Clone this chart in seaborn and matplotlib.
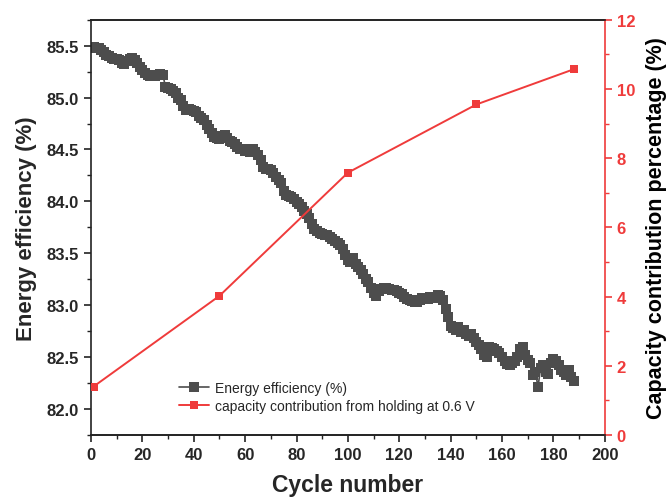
import numpy as np
import pandas as pd
import matplotlib
matplotlib.use('Agg')
import matplotlib.pyplot as plt
from matplotlib.ticker import MultipleLocator
import seaborn as sns

# data
cycles = list(range(1, 189))
energy_eff = [
    85.49, 85.48, 85.48, 85.46, 85.44, 85.41, 85.40, 85.38, 85.37, 85.37,
    85.36, 85.33, 85.32, 85.35, 85.37, 85.38, 85.36, 85.33, 85.29, 85.27,
    85.24, 85.22, 85.21, 85.22, 85.21, 85.22, 85.23, 85.22, 85.10, 85.09,
    85.08, 85.06, 85.04, 85.00, 84.98, 84.92, 84.88, 84.89, 84.88, 84.87,
    84.86, 84.82, 84.80, 84.78, 84.74, 84.70, 84.66, 84.62, 84.61, 84.60,
    84.63, 84.64, 84.61, 84.58, 84.57, 84.55, 84.52, 84.50, 84.50, 84.49,
    84.50, 84.48, 84.50, 84.48, 84.45, 84.40, 84.33, 84.31, 84.31, 84.30,
    84.27, 84.23, 84.21, 84.18, 84.10, 84.06, 84.05, 84.04, 84.02, 83.99,
    83.97, 83.95, 83.91, 83.88, 83.84, 83.78, 83.73, 83.71, 83.70, 83.69,
    83.68, 83.68, 83.66, 83.64, 83.62, 83.60, 83.58, 83.54, 83.48, 83.44,
    83.42, 83.45, 83.40, 83.37, 83.34, 83.30, 83.25, 83.22, 83.17, 83.12,
    83.09, 83.14, 83.16, 83.17, 83.17, 83.16, 83.15, 83.15, 83.14, 83.12,
    83.11, 83.08, 83.06, 83.05, 83.04, 83.03, 83.03, 83.05, 83.07, 83.07,
    83.06, 83.08, 83.08, 83.07, 83.10, 83.09, 83.05, 82.96, 82.89, 82.80,
    82.78, 82.76, 82.79, 82.74, 82.76, 82.72, 82.70, 82.72, 82.68, 82.65,
    82.62, 82.58, 82.52, 82.50, 82.60, 82.59, 82.58, 82.56, 82.54, 82.50,
    82.46, 82.43, 82.42, 82.44, 82.46, 82.50, 82.58, 82.60, 82.52, 82.47,
    82.44, 82.33, 82.36, 82.21, 82.40, 82.42, 82.36, 82.34, 82.44, 82.48,
    82.46, 82.42, 82.38, 82.36, 82.33, 82.38, 82.31, 82.27,
]
hold_cycles = [1, 50, 100, 150, 188]
hold_contrib = [1.40, 4.02, 7.58, 9.55, 10.57]

df_ee = pd.DataFrame({'cycle': cycles, 'ee': energy_eff})
df_hold = pd.DataFrame({'cycle': hold_cycles, 'contrib': hold_contrib})

sns.set_theme(style='ticks')
plt.rcParams['font.family'] = ['Liberation Sans', 'DejaVu Sans']

grey = '#4d4d4d'
red = '#ef3b3b'

fig = plt.figure(figsize=(6.72, 5.02), dpi=100)
ax = fig.add_axes([0.1354, 0.1315, 0.7646, 0.8273])
ax2 = ax.twinx()

sns.lineplot(data=df_ee, x='cycle', y='ee', ax=ax, color=grey, marker='s',
             markersize=6.5, markeredgewidth=0, linewidth=1.2,
             label='Energy efficiency (%)', legend=False)
sns.lineplot(data=df_hold, x='cycle', y='contrib', ax=ax2, color=red, marker='s',
             markersize=6, markeredgewidth=0, linewidth=1.4,
             label='capacity contribution from holding at 0.6 V', legend=False)

ax.set_xlim(0, 200)
ax.set_ylim(81.75, 85.75)
ax2.set_ylim(0, 12)
ax.xaxis.set_major_locator(MultipleLocator(20))
ax.xaxis.set_minor_locator(MultipleLocator(10))
ax.yaxis.set_major_locator(MultipleLocator(0.5))
ax.yaxis.set_minor_locator(MultipleLocator(0.25))
ax2.yaxis.set_major_locator(MultipleLocator(2))
ax2.yaxis.set_minor_locator(MultipleLocator(1))
ax.set_yticks(np.arange(82.0, 85.51, 0.5))
ax.set_yticklabels([f'{v:.1f}' for v in np.arange(82.0, 85.51, 0.5)])

ax.set_xlabel('Cycle number', fontsize=16.5, fontweight='bold', labelpad=8)
ax.set_ylabel('Energy efficiency (%)', fontsize=16, fontweight='bold', labelpad=7)
ax2.set_ylabel('Capacity contribution percentage (%)', fontsize=15.5,
               fontweight='bold', color='black', labelpad=8)

for a in (ax, ax2):
    for s in a.spines.values():
        s.set_linewidth(1.2)
        s.set_color('#222222')
ax.spines['right'].set_visible(False)
ax2.spines['right'].set_color(red)
ax2.spines['left'].set_visible(False)

ax.tick_params(axis='both', which='major', direction='out', length=5, width=1.2,
               labelsize=12, color='#222222', top=False)
ax.tick_params(axis='both', which='minor', direction='out', length=3, width=1.0,
               color='#222222', top=False)
ax2.tick_params(axis='y', which='major', direction='out', length=5, width=1.2,
                labelsize=12, colors=red)
ax2.tick_params(axis='y', which='minor', direction='out', length=3, width=1.0,
                colors=red)
for lab in ax.get_xticklabels() + ax.get_yticklabels() + ax2.get_yticklabels():
    lab.set_fontweight('bold')

h1, l1 = ax.get_legend_handles_labels()
h2, l2 = ax2.get_legend_handles_labels()
ax.legend(h1 + h2, l1 + l2, loc='lower left', bbox_to_anchor=(0.16, 0.04),
          frameon=False, fontsize=10, handlelength=2.2, handletextpad=0.4,
          labelspacing=0.3, borderaxespad=0)

fig.savefig('out.png', dpi=100)
